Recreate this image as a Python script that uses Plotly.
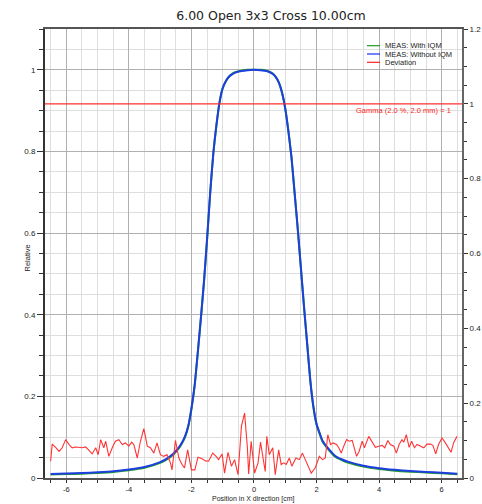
import plotly.graph_objects as go

# ---------------- data ----------------
prof_x = [-6.5, -6.0, -5.5, -5.0, -4.5, -4.0, -3.5, -3.0, -2.8, -2.6, -2.4, -2.3, -2.2, -2.1,
          -2.0, -1.9, -1.8, -1.7, -1.6, -1.5, -1.4, -1.3, -1.2, -1.1, -1.0, -0.9, -0.8, -0.7,
          -0.6, -0.4, -0.2, 0.0, 0.2, 0.4, 0.6, 0.7, 0.8, 0.9, 1.0, 1.1, 1.2, 1.3, 1.4, 1.5,
          1.6, 1.7, 1.8, 1.9, 2.0, 2.1, 2.2, 2.4, 2.6, 2.8, 3.0, 3.5, 4.0, 4.5, 5.0, 5.5, 6.0, 6.5]
meas_without_iqm = [0.0098, 0.011, 0.012, 0.014, 0.0165, 0.021, 0.027, 0.039, 0.047, 0.058,
                    0.075, 0.087, 0.103, 0.128, 0.17, 0.225, 0.305, 0.39, 0.48, 0.585, 0.698,
                    0.795, 0.865, 0.921, 0.955, 0.972, 0.983, 0.989, 0.993, 0.997, 0.999, 1.0,
                    0.999, 0.997, 0.99, 0.982, 0.968, 0.943, 0.905, 0.85, 0.785, 0.698, 0.61,
                    0.515, 0.42, 0.33, 0.24, 0.175, 0.133, 0.11, 0.09, 0.07, 0.054, 0.046,
                    0.040, 0.030, 0.024, 0.020, 0.017, 0.015, 0.013, 0.0105]
meas_with_iqm = [0.0085, 0.0095, 0.0105, 0.0125, 0.015, 0.019, 0.025, 0.037, 0.045, 0.056,
                 0.073, 0.085, 0.101, 0.126, 0.168, 0.223, 0.303, 0.388, 0.478, 0.583, 0.697,
                 0.794, 0.864, 0.920, 0.955, 0.972, 0.983, 0.990, 0.994, 0.998, 1.0, 1.0,
                 1.0, 0.998, 0.991, 0.982, 0.968, 0.943, 0.905, 0.85, 0.785, 0.697, 0.609,
                 0.514, 0.419, 0.329, 0.239, 0.173, 0.131, 0.108, 0.088, 0.068, 0.052, 0.044,
                 0.038, 0.028, 0.022, 0.018, 0.0155, 0.0135, 0.0115, 0.009]

dev_x = [-6.50, -6.45, -6.34, -6.23, -6.13, -6.02, -5.91, -5.81, -5.70, -5.60, -5.49, -5.38,
         -5.28, -5.17, -5.06, -4.98, -4.90, -4.80, -4.74, -4.64, -4.53, -4.43, -4.32, -4.21,
         -4.11, -4.00, -3.91, -3.84, -3.73, -3.63, -3.52, -3.41, -3.31, -3.20, -3.10, -2.99,
         -2.89, -2.78, -2.67, -2.62, -2.51, -2.40, -2.30, -2.22, -2.12, -2.00, -1.89, -1.79,
         -1.66, -1.55, -1.45, -1.32, -1.21, -1.13, -1.02, -0.94, -0.83, -0.72, -0.62, -0.51,
         -0.40, -0.30, -0.21, -0.17, -0.09, 0.02, 0.13, 0.21, 0.29, 0.36, 0.41, 0.49, 0.60,
         0.68, 0.79, 0.87, 0.95, 1.03, 1.13, 1.21, 1.34, 1.45, 1.55, 1.69, 1.83, 1.96, 2.09,
         2.19, 2.28, 2.36, 2.45, 2.53, 2.64, 2.71, 2.79, 2.87, 2.96, 3.04, 3.14, 3.28, 3.36,
         3.46, 3.53, 3.67, 3.78, 3.88, 3.99, 4.10, 4.18, 4.28, 4.36, 4.47, 4.55, 4.64, 4.73,
         4.79, 4.87, 4.96, 5.04, 5.13, 5.21, 5.32, 5.43, 5.53, 5.64, 5.72, 5.81, 5.90, 6.01,
         6.12, 6.22, 6.30, 6.38, 6.49]
deviation = [0.041, 0.083, 0.075, 0.065, 0.074, 0.094, 0.082, 0.074, 0.076, 0.075, 0.074, 0.076,
             0.069, 0.059, 0.074, 0.057, 0.094, 0.074, 0.090, 0.053, 0.074, 0.090, 0.094, 0.082,
             0.086, 0.078, 0.088, 0.082, 0.049, 0.090, 0.121, 0.078, 0.074, 0.061, 0.086, 0.057,
             0.053, 0.057, 0.037, 0.020, 0.092, 0.049, 0.033, 0.025, 0.069, 0.020, 0.020, 0.051,
             0.047, 0.042, 0.041, 0.061, 0.053, 0.045, 0.059, 0.012, 0.063, 0.029, 0.045, 0.008,
             0.127, 0.159, 0.074, 0.010, 0.090, 0.012, 0.037, 0.088, 0.049, 0.016, 0.102, 0.057,
             0.074, 0.008, 0.069, 0.033, 0.037, 0.033, 0.049, 0.029, 0.049, 0.045, 0.061, 0.037,
             0.012, 0.025, 0.053, 0.045, 0.049, 0.106, 0.082, 0.086, 0.082, 0.074, 0.061, 0.078,
             0.094, 0.090, 0.092, 0.053, 0.065, 0.090, 0.074, 0.102, 0.086, 0.075, 0.078, 0.080,
             0.074, 0.092, 0.082, 0.078, 0.061, 0.082, 0.094, 0.088, 0.106, 0.075, 0.090, 0.074,
             0.082, 0.078, 0.074, 0.083, 0.083, 0.080, 0.059, 0.082, 0.098, 0.086, 0.074, 0.063,
             0.086, 0.102]

gamma_level = 1.0
x_tick_vals = [-6, -4, -2, 0, 2, 4, 6]
x_tick_text = ["-6", "-4", "-2", "0", "2", "4", "6"]

title_text = "6.00 Open 3x3 Cross 10.00cm"
legend_names = ["MEAS: With IQM", "MEAS: Without IQM", "Deviation"]
legend_colors = ["#1f9a1f", "#1030ff", "#ff2020"]

# ---------------- figure ----------------
W, H = 482, 504
L, R, T, B = 45, 20, 29, 26
PW, PH = W - L - R, H - T - B


def px2paper(px, py):
    return (px - L) / PW, (H - B - py) / PH


fig = go.Figure()
fig.add_trace(go.Scatter(x=prof_x, y=meas_with_iqm, mode="lines", name=legend_names[0],
                         line=dict(color="#22a022", width=2, shape="spline", smoothing=0.6)))
fig.add_trace(go.Scatter(x=prof_x, y=meas_without_iqm, mode="lines", name=legend_names[1],
                         line=dict(color="#1e3ee0", width=2, shape="spline", smoothing=0.6)))
fig.add_trace(go.Scatter(x=dev_x, y=deviation, mode="lines", name=legend_names[2],
                         line=dict(color="#ff3333", width=1.1)))
# invisible trace to activate right axis
fig.add_trace(go.Scatter(x=[0], y=[gamma_level], yaxis="y2", mode="markers",
                         marker=dict(opacity=0), showlegend=False, hoverinfo="skip"))

tickfont = dict(family="Liberation Sans", size=8, color="#222")
xtickfont = dict(family="Liberation Sans", size=7.5, color="#222")

fig.update_layout(
    width=W, height=H,
    margin=dict(l=L, r=R, t=T, b=B, pad=0, autoexpand=False),
    paper_bgcolor="white", plot_bgcolor="white",
    showlegend=False,
    title=dict(text=title_text, x=(271 - L) / PW, xref="paper", xanchor="center",
               y=1 - 16 / H, yref="container", yanchor="middle",
               font=dict(family="DejaVu Sans", size=12.5, color="#222")),
    xaxis=dict(range=[-6.68, 6.65], tickvals=x_tick_vals, ticktext=x_tick_text,
               automargin=False,
               ticks="outside", ticklen=3, tickwidth=1, tickcolor="#333",
               showline=True, linecolor="#555", linewidth=2, mirror=True,
               showgrid=True, gridcolor="#b0b0b0", gridwidth=1, zeroline=False,
               tickfont=xtickfont,
               minor=dict(dtick=0.5, tick0=0, ticks="outside", ticklen=3, tickcolor="#333",
                          showgrid=True, gridcolor="#dedede")),
    yaxis=dict(range=[0, 1.1], dtick=0.2, tick0=0, automargin=False,
               ticks="outside", ticklen=6, tickwidth=1, tickcolor="#333",
               showline=True, linecolor="#333", linewidth=2,
               showgrid=True, gridcolor="#b0b0b0", zeroline=False, tickfont=tickfont,
               minor=dict(dtick=0.05, tick0=0, ticks="outside", ticklen=4, tickcolor="#333",
                          showgrid=True, gridcolor="#dedede")),
    yaxis2=dict(range=[0, 1.2], dtick=0.2, tick0=0, overlaying="y", side="right",
                automargin=False,
                ticks="outside", ticklen=4, tickwidth=1, tickcolor="#333",
                showline=True, linecolor="#666", linewidth=2,
                showgrid=False, zeroline=False, tickfont=tickfont,
                minor=dict(dtick=0.05, tick0=0, ticks="outside", ticklen=3, tickcolor="#333",
                           showgrid=False)),
)

# gamma line on right axis
fig.add_shape(type="line", xref="paper", x0=0, x1=1, yref="y2", y0=gamma_level, y1=gamma_level,
              line=dict(color="#ff3030", width=1.2))
fig.add_annotation(text="Gamma (2.0 %, 2.0 mm) = " + str(int(gamma_level)), xref="paper",
                   x=(453 - L) / PW, xanchor="right", yref="y2", y=gamma_level, yanchor="top",
                   yshift=-0.5, showarrow=False,
                   font=dict(family="Liberation Sans", size=7.5, color="#ff2020"))

# axis titles
ax, ay = px2paper(20, 258)
fig.add_annotation(text="Relative", xref="paper", yref="paper", x=ax, y=ay, textangle=-90,
                   showarrow=False, font=dict(family="Liberation Sans", size=7.5, color="#222"))
ax, ay = px2paper(253, 504)
fig.add_annotation(text="Position in X direction [cm]", xref="paper", yref="paper", x=ax, y=ay,
                   yanchor="bottom", borderpad=0,
                   showarrow=False, font=dict(family="Liberation Sans", size=7, color="#222"))

# compact legend
for i, (name, col) in enumerate(zip(legend_names, legend_colors)):
    py = 45.7 + i * 8.3
    x0, y0 = px2paper(367, py)
    x1, _ = px2paper(380, py)
    fig.add_shape(type="line", xref="paper", yref="paper", x0=x0, x1=x1, y0=y0, y1=y0,
                  line=dict(color=col, width=1.2))
    tx, _ = px2paper(383, py)
    fig.add_annotation(text=name, xref="paper", yref="paper", x=tx, y=y0, xanchor="left",
                       yanchor="middle", showarrow=False,
                       font=dict(family="Liberation Sans", size=7.5, color="#222"))

fig.write_html("out.html")
